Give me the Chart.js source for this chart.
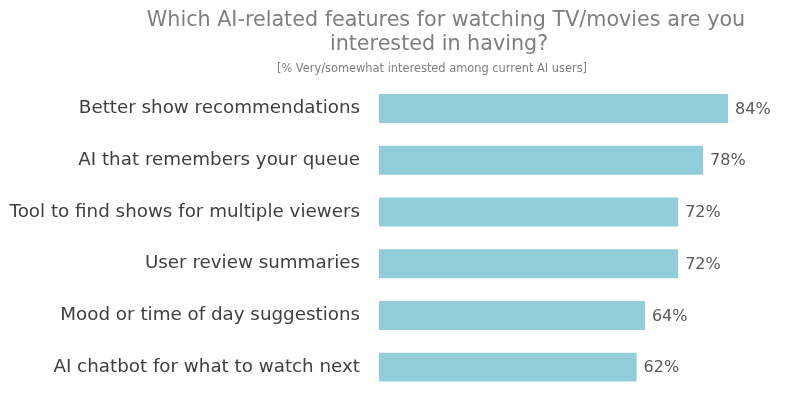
<!DOCTYPE html>
<html>
<head>
<meta charset="utf-8">
<script src="https://cdn.jsdelivr.net/npm/chart.js@4/dist/chart.umd.min.js"></script>
<style>
html,body{margin:0;padding:0;background:#fff;}
#wrap{width:800px;height:410px;}
</style>
</head>
<body>
<div id="wrap"><canvas id="c" width="800" height="410"></canvas></div>
<script>
const categories = [
  "Better show recommendations",
  "AI that remembers your queue",
  "Tool to find shows for multiple viewers",
  "User review summaries",
  "Mood or time of day suggestions",
  "AI chatbot for what to watch next"
];
const values = [84, 78, 72, 72, 64, 62];
const titleLines = ["Which AI-related features for watching TV/movies are you", "interested in having?"];
const subtitleText = "[% Very/somewhat interested among current AI users]";

const FONT = "'DejaVu Sans', sans-serif";

const titleBlock = {
  id: 'titleBlock',
  afterDraw(chart) {
    const ctx = chart.ctx;
    ctx.save();
    ctx.fillStyle = '#7f7f7f';
    ctx.textAlign = 'center';
    ctx.textBaseline = 'middle';
    ctx.font = "20.7px " + FONT;
    ctx.fillText(titleLines[0], 446, 21);
    ctx.fillText(titleLines[1], 439, 45);
    ctx.font = "11.4px " + FONT;
    ctx.fillText(subtitleText, 432, 69);
    ctx.restore();
  }
};

const valueLabels = {
  id: 'valueLabels',
  afterDatasetsDraw(chart) {
    const ctx = chart.ctx;
    const meta = chart.getDatasetMeta(0);
    ctx.save();
    ctx.font = "16px " + FONT;
    ctx.fillStyle = '#595959';
    ctx.textAlign = 'left';
    ctx.textBaseline = 'middle';
    meta.data.forEach((el, i) => {
      ctx.fillText(values[i] + '%', el.x + 7, el.y + 1);
    });
    ctx.restore();
  }
};

new Chart(document.getElementById('c'), {
  type: 'bar',
  data: {
    labels: categories,
    datasets: [{
      data: values,
      backgroundColor: '#92CDDC',
      borderWidth: 0,
      categoryPercentage: 1,
      barPercentage: 0.56
    }]
  },
  options: {
    indexAxis: 'y',
    responsive: false,
    animation: false,
    devicePixelRatio: 1,
    layout: { padding: { left: 0, right: 5.5, top: 82.7, bottom: 17 } },
    plugins: {
      legend: { display: false },
      tooltip: { enabled: false },
      title: { display: false },
      subtitle: { display: false }
    },
    scales: {
      x: { display: false, min: 0, max: 100 },
      y: {
        grid: { display: false, drawTicks: false },
        border: { display: false },
        ticks: { color: '#404040', font: { family: FONT, size: 18.3 }, padding: 19 },
        afterFit(scale) { scale.width = 379; scale.paddingTop = 0; scale.paddingBottom = 0; }
      }
    }
  },
  plugins: [valueLabels, titleBlock]
});
</script>
</body>
</html>
